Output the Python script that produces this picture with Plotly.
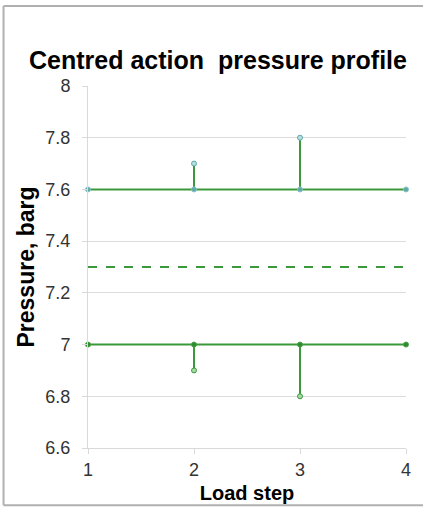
import plotly.graph_objects as go

steps = [1, 2, 3, 4]
upper = [7.6, 7.6, 7.6, 7.6]
upper_peak = [7.6, 7.7, 7.8, 7.6]
lower = [7.0, 7.0, 7.0, 7.0]
lower_dip = [7.0, 6.9, 6.8, 7.0]
setpoint = [7.3, 7.3, 7.3, 7.3]
y_ticks = [6.6, 6.8, 7.0, 7.2, 7.4, 7.6, 7.8, 8.0]
y_tick_labels = ["6.6", "6.8", "7", "7.2", "7.4", "7.6", "7.8", "8"]

GREEN = "#3a9a3a"
W, H = 423, 513
L, R, T, B = 88, 15, 86, 61

def stems(base, tip):
    xs, ys = [], []
    for x, b, t in zip(steps, base, tip):
        if b != t:
            xs += [x, x, None]
            ys += [b, t, None]
    return xs, ys

fig = go.Figure()

# setpoint dashed
fig.add_trace(go.Scatter(x=steps, y=setpoint, mode="lines",
                         line=dict(color=GREEN, width=2, dash="dash"),
                         hoverinfo="skip", showlegend=False))

# stems
ux, uy = stems(upper, upper_peak)
fig.add_trace(go.Scatter(x=ux, y=uy, mode="lines", line=dict(color=GREEN, width=2),
                         showlegend=False, cliponaxis=False))
lx, ly = stems(lower, lower_dip)
fig.add_trace(go.Scatter(x=lx, y=ly, mode="lines", line=dict(color=GREEN, width=2),
                         showlegend=False, cliponaxis=False))

# main lines
fig.add_trace(go.Scatter(x=steps, y=upper, mode="lines+markers",
                         line=dict(color=GREEN, width=2),
                         marker=dict(size=5, color="#5fa8a8", line=dict(color="#8cc6c6", width=1)),
                         showlegend=False, cliponaxis=False))
fig.add_trace(go.Scatter(x=steps, y=lower, mode="lines+markers",
                         line=dict(color=GREEN, width=2),
                         marker=dict(size=5, color="#2e8b2e", line=dict(color="#4aa04a", width=1)),
                         showlegend=False, cliponaxis=False))

# peak / dip markers
pk = [(x, t) for x, b, t in zip(steps, upper, upper_peak) if b != t]
fig.add_trace(go.Scatter(x=[p[0] for p in pk], y=[p[1] for p in pk], mode="markers",
                         marker=dict(size=5, color="#b5dede", line=dict(color="#5fa8a8", width=1)),
                         showlegend=False, cliponaxis=False))
dp = [(x, t) for x, b, t in zip(steps, lower, lower_dip) if b != t]
fig.add_trace(go.Scatter(x=[p[0] for p in dp], y=[p[1] for p in dp], mode="markers",
                         marker=dict(size=5, color="#a8d8a8", line=dict(color="#3a9a3a", width=1)),
                         showlegend=False, cliponaxis=False))

pw = W - L - R
ph = H - T - B
def px(xp):
    return (xp - L) / pw
def py(yp):
    return (H - B - yp) / ph

fig.update_layout(
    width=W, height=H,
    margin=dict(l=L, r=R, t=T, b=B),
    paper_bgcolor="white", plot_bgcolor="white",
    font=dict(family="Arial, Liberation Sans, sans-serif", color="#333333", size=18),
    title=dict(text="<b>Centred action\u00a0 pressure profile</b>",
               font=dict(size=25, color="black"),
               x=218 / W, xanchor="center", xref="container",
               y=1 - 60 / H, yanchor="middle", yref="container"),
    xaxis=dict(range=[1, 4], tickvals=steps, ticktext=[str(s) for s in steps],
               showgrid=False, zeroline=False, showline=True, linecolor="#d9d9d9", linewidth=1,
               ticks="outside", ticklen=5, tickcolor="#d9d9d9",
               tickfont=dict(size=18, color="#333333"),
               title=dict(text="<b>Load step</b>", font=dict(size=20, color="black"), standoff=7)),
    yaxis=dict(range=[6.6, 8.0], tickvals=y_ticks, ticktext=y_tick_labels,
               showgrid=True, gridcolor="#dcdcdc", gridwidth=1, zeroline=False,
               showline=True, linecolor="#d9d9d9", linewidth=1,
               ticks="outside", ticklen=5, tickcolor="#d9d9d9",
               ticklabelstandoff=8,
               tickfont=dict(size=18, color="#333333"),
               title=dict(text="<b>Pressure, barg</b>", font=dict(size=23, color="black"), standoff=4)),
    shapes=[
        dict(type="line", xref="paper", yref="paper", x0=px(3), x1=px(W + 5), y0=py(5), y1=py(5),
             line=dict(color="#b0b0b0", width=2)),
        dict(type="line", xref="paper", yref="paper", x0=px(3), x1=px(3), y0=py(5), y1=py(510),
             line=dict(color="#b0b0b0", width=2)),
        dict(type="line", xref="paper", yref="paper", x0=px(3), x1=px(W + 5), y0=py(510), y1=py(510),
             line=dict(color="#b0b0b0", width=2)),
    ],
)

post = (
    "var s='html,body{margin:0;padding:0;overflow:hidden;width:423px;height:513px;}';"
    "var st=document.createElement('style');st.innerHTML=s;document.head.appendChild(st);"
)
fig.write_html("out.html", config={"displayModeBar": False}, post_script=post)
